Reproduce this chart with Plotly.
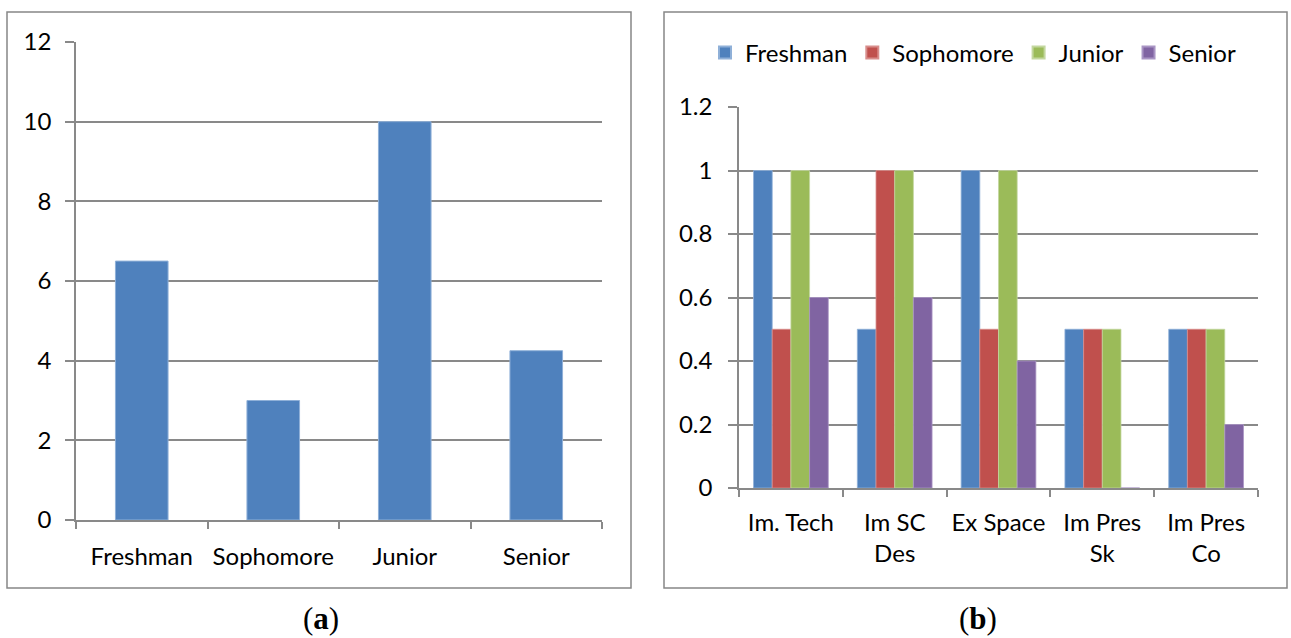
import plotly.graph_objects as go

W, H = 1291, 638

# Panel (a)
classes = ["Freshman", "Sophomore", "Junior", "Senior"]
class_values = [6.5, 3, 10, 4.25]

# Panel (b)
skills = ["Im. Tech", "Im SC<br>Des", "Ex Space", "Im Pres<br>Sk", "Im Pres<br>Co"]
freshman = [1, 0.5, 1, 0.5, 0.5]
sophomore = [0.5, 1, 0.5, 0.5, 0.5]
junior = [1, 1, 1, 0.5, 0.5]
senior = [0.6, 0.6, 0.4, 0, 0.2]

series_names = ["Freshman", "Sophomore", "Junior", "Senior"]
series_colors = ["#4F81BD", "#C0504D", "#9BBB59", "#8064A2"]
series_edges = ["#8fb0d8", "#d88d8b", "#c3d79f", "#a995c4"]

FONT = "Lato"
GRID = "#898989"

def px_x(v):
    return v / W

def px_y(v):
    return 1 - v / H

fig = go.Figure()

fig.add_trace(go.Bar(
    x=classes, y=class_values, xaxis="x", yaxis="y", width=0.4,
    marker=dict(color=series_colors[0], line=dict(color=series_edges[0], width=1)),
    showlegend=False,
))

for name, vals, col, edge in zip(series_names, [freshman, sophomore, junior, senior],
                                 series_colors, series_edges):
    fig.add_trace(go.Bar(
        x=skills, y=vals, name=name, xaxis="x2", yaxis="y2",
        marker=dict(color=col, line=dict(color=edge, width=0.8)),
    ))

axis_font = dict(family=FONT, size=24, color="#000000")

common_x = dict(
    showgrid=False, showline=True, linecolor=GRID, linewidth=1.5,
    ticks="outside", tickson="boundaries", ticklen=7, tickcolor=GRID, tickwidth=1.5,
    tickfont=axis_font, fixedrange=True, automargin=False,
)
common_y = dict(
    showgrid=True, gridcolor=GRID, gridwidth=1.5, zeroline=False,
    showline=True, linecolor=GRID, linewidth=1.5,
    ticks="outside", ticklen=9, tickcolor=GRID, tickwidth=1.5,
    tickfont=axis_font, fixedrange=True, automargin=False,
)

fig.update_layout(
    width=W, height=H,
    autosize=False,
    margin=dict(l=0, r=0, t=0, b=0, pad=0, autoexpand=False),
    paper_bgcolor="white", plot_bgcolor="white",
    barmode="group",
    bargap=0.28, bargroupgap=0,
    font=dict(family=FONT, size=24, color="#000000"),
    xaxis=dict(domain=[px_x(76), px_x(602)], anchor="y", ticklabelstandoff=14, **common_x),
    yaxis=dict(domain=[px_y(520), px_y(42)], anchor="x", range=[0, 12], dtick=2,
               ticklabelstandoff=9, **common_y),
    xaxis2=dict(domain=[px_x(739), px_x(1258)], anchor="y2", ticklabelstandoff=12, **common_x),
    yaxis2=dict(domain=[px_y(488), px_y(107)], anchor="x2", range=[0, 1.2], dtick=0.2,
                ticklabelstandoff=11, **common_y),
    legend=dict(
        orientation="h", x=px_x(705), y=px_y(53), xanchor="left", yanchor="middle",
        font=dict(family=FONT, size=24), bgcolor="rgba(0,0,0,0)",
        itemsizing="constant", tracegroupgap=0,
    ),
    showlegend=True,
)

shapes = []
for (x0, x1) in [(7, 631), (664, 1287)]:
    shapes.append(dict(type="rect", xref="paper", yref="paper",
                       x0=px_x(x0), x1=px_x(x1), y0=px_y(588), y1=px_y(12),
                       line=dict(color="#878787", width=1.5), fillcolor="rgba(0,0,0,0)",
                       layer="below"))
fig.update_layout(shapes=shapes)

for label, cx in [("a", 321), ("b", 978)]:
    fig.add_annotation(x=px_x(cx), y=0, xref="paper", yref="paper",
                       xanchor="center", yanchor="bottom",
                       text=f"(<b>{label}</b>)", showarrow=False,
                       font=dict(family="Liberation Serif", size=31, color="#000000"))

fig.write_html(
    "out.html",
    config={"displayModeBar": False},
    post_script="document.body.style.margin='0';document.body.style.overflow='hidden';",
)
